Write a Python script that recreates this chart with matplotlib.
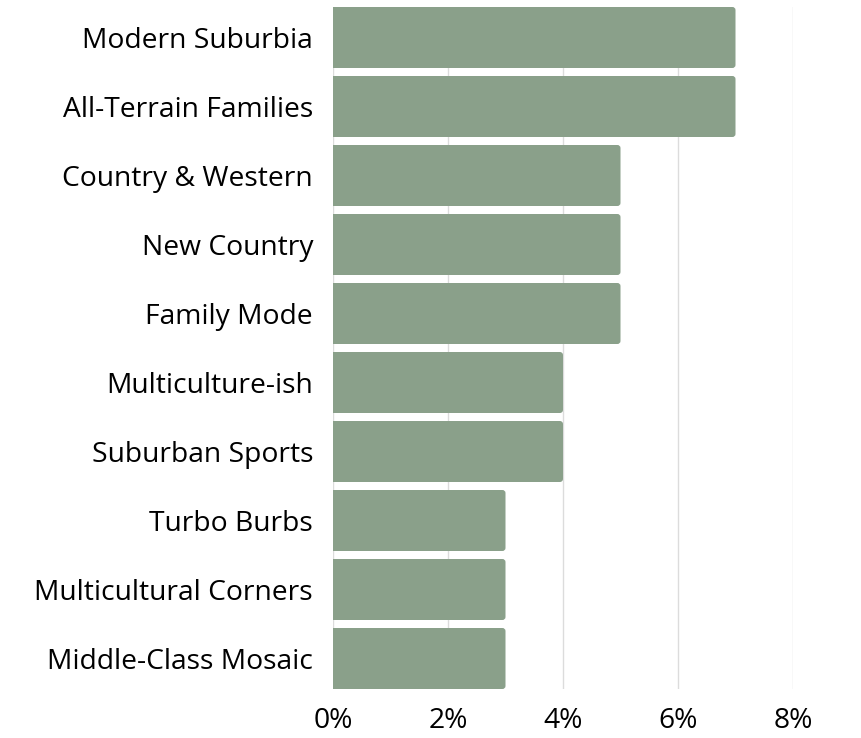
import numpy as np
import matplotlib
matplotlib.use("Agg")
from matplotlib import pyplot as plt
from matplotlib.patches import FancyBboxPatch

segments = ["Modern Suburbia", "All-Terrain Families", "Country & Western",
            "New Country", "Family Mode", "Multiculture-ish", "Suburban Sports",
            "Turbo Burbs", "Multicultural Corners", "Middle-Class Mosaic"]
share = [7, 7, 5, 5, 5, 4, 4, 3, 3, 3]
ticks = [0, 2, 4, 6, 8]

plt.rcParams['font.family'] = ['Open Sans', 'DejaVu Sans']
plt.rcParams['font.size'] = 20.3

fig = plt.figure(figsize=(8.61, 7.38), dpi=100)
ax = fig.add_axes([333/861, 1-689/738, 460/861, 682/738])

h = 0.884
y = np.arange(len(segments))
bars = ax.barh(y, share, height=h, color='#8aa08a')

# swap the plain bars for ones with rounded right corners
for b in bars:
    x0, y0, w, bh = b.get_x(), b.get_y(), b.get_width(), b.get_height()
    b.remove()
    p = FancyBboxPatch((x0 - 0.2, y0), w + 0.2, bh,
                       boxstyle="round,pad=0,rounding_size=0.055",
                       mutation_aspect=0.8, fc='#8aa08a', ec='none', zorder=2)
    ax.add_patch(p)

ax.set_xlim(0, 8)
ax.set_ylim(len(segments) - 1 + h/2, -h/2)
ax.set_yticks(y)
ax.set_yticklabels(segments)
ax.set_xticks(ticks)
ax.set_xticklabels([f"{t}%" for t in ticks])
ax.tick_params(axis='y', length=0, pad=14.4)
ax.tick_params(axis='x', length=0, pad=13)
ax.grid(axis='x', color='#dcdcdc', lw=1)
ax.set_axisbelow(True)
for s in ax.spines.values():
    s.set_visible(False)

fig.savefig("out.png", dpi=100)
